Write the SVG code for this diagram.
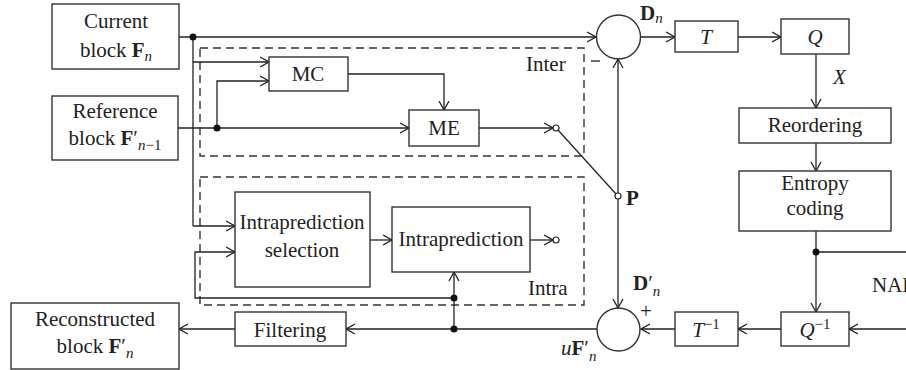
<svg xmlns="http://www.w3.org/2000/svg" width="906" height="370" viewBox="0 0 906 370">
  <defs>
    <marker id="arr" viewBox="0 -6 10 12" refX="9" refY="0" markerWidth="10" markerHeight="12" markerUnits="userSpaceOnUse" orient="auto">
      <path d="M0,-5 L9,0 L0,5" fill="none" stroke="#222" stroke-width="1.3"/>
    </marker>
  </defs>
  <style>
    .box { fill: #fff; stroke: #333; stroke-width: 1.4; }
    .dash { fill: none; stroke: #333; stroke-width: 1.4; stroke-dasharray: 8 5; }
    .ln { fill: none; stroke: #222; stroke-width: 1.3; }
    .ar { marker-end: url(#arr); }
    .dot { fill: #111; }
    .sw { fill: #fff; stroke: #222; stroke-width: 1.2; }
    text { font-family: "Liberation Serif", "Times New Roman", "DejaVu Serif", serif; font-size: 21px; fill: #222; }
    .c { text-anchor: middle; }
    .b { font-weight: bold; }
    .i { font-style: italic; }
    .s { font-size: 15px; }
  </style>
  <rect width="906" height="370" fill="#fff"/>

  <!-- dashed mode regions -->
  <g id="inter-region">
    <rect class="dash" x="200" y="48" width="384" height="108"/>
    <text x="526" y="71">Inter</text>
  </g>
  <g id="intra-region">
    <rect class="dash" x="200" y="177" width="384" height="128"/>
    <text x="528" y="295">Intra</text>
  </g>

  <!-- connectors -->
  <g id="connectors">
    <!-- current block to subtractor -->
    <path class="ln ar" d="M179,37 H596"/>
    <path class="ln" d="M193,37 V226"/>
    <path class="ln ar" d="M193,62 H269"/>
    <path class="ln ar" d="M193,226 H235"/>
    <!-- reference block -->
    <path class="ln ar" d="M178,128 H409"/>
    <path class="ln ar" d="M217,128 V81 H269"/>
    <!-- MC to ME -->
    <path class="ln ar" d="M348,74 H444 V110"/>
    <!-- ME to switch contact -->
    <path class="ln ar" d="M479,128 H553"/>
    <!-- switch arm -->
    <path class="ln" d="M558,130 L616,194"/>
    <!-- prediction P -->
    <path class="ln ar" d="M618,193 V59"/>
    <path class="ln ar" d="M618,199 V308"/>
    <!-- forward path -->
    <path class="ln ar" d="M641,37 H675"/>
    <path class="ln ar" d="M738,37 H781"/>
    <path class="ln ar" d="M816,54 V108"/>
    <path class="ln ar" d="M816,143 V171"/>
    <path class="ln" d="M816,231 V252 H906"/>
    <path class="ln ar" d="M816,252 V312"/>
    <!-- reconstruction path -->
    <path class="ln ar" d="M906,329 H849"/>
    <path class="ln ar" d="M781,329 H738"/>
    <path class="ln ar" d="M675,329 H641"/>
    <path class="ln ar" d="M597,329 H346"/>
    <path class="ln ar" d="M235,329 H179"/>
    <path class="ln ar" d="M454,329 V272"/>
    <path class="ln ar" d="M454,298 H195 V252 H235"/>
    <!-- intra chain -->
    <path class="ln ar" d="M370,240 H392"/>
    <path class="ln ar" d="M530,240 H553"/>
    <!-- junctions -->
    <circle class="dot" cx="193" cy="37" r="3.5"/>
    <circle class="dot" cx="217" cy="128" r="3.5"/>
    <circle class="dot" cx="454" cy="298" r="3.5"/>
    <circle class="dot" cx="454" cy="329" r="3.5"/>
    <circle class="dot" cx="816" cy="252" r="3.5"/>
    <!-- switch contacts -->
    <circle class="sw" cx="556" cy="128" r="3"/>
    <circle class="sw" cx="556" cy="240" r="3"/>
    <circle class="sw" cx="618" cy="196" r="3"/>
  </g>

  <g id="current-block">
    <rect class="box" x="52" y="4" width="127" height="65"/>
    <text class="c" x="116" y="28">Current</text>
    <text class="c" x="116" y="57">block <tspan class="b">F</tspan><tspan class="i s" dy="4">n</tspan></text>
  </g>
  <g id="reference-block">
    <rect class="box" x="52" y="96" width="126" height="64"/>
    <text class="c" x="115" y="118">Reference</text>
    <text class="c" x="115" y="145">block <tspan class="b">F</tspan><tspan>′</tspan><tspan class="i s" dy="5">n</tspan><tspan class="s">−1</tspan></text>
  </g>
  <g id="mc">
    <rect class="box" x="269" y="57" width="79" height="34"/>
    <text class="c" x="308" y="81">MC</text>
  </g>
  <g id="me">
    <rect class="box" x="409" y="110" width="70" height="36"/>
    <text class="c" x="444" y="135">ME</text>
  </g>
  <g id="intra-selection">
    <rect class="box" x="235" y="192" width="135" height="95"/>
    <text class="c" x="302" y="229">Intraprediction</text>
    <text class="c" x="302" y="257">selection</text>
  </g>
  <g id="intraprediction">
    <rect class="box" x="392" y="207" width="138" height="65"/>
    <text class="c" x="461" y="246">Intraprediction</text>
  </g>
  <g id="subtractor">
    <circle class="box" cx="618.5" cy="37" r="22"/>
    <path class="ln" d="M591,61 H600"/>
    <text x="640" y="20"><tspan class="b">D</tspan><tspan class="i s" dy="3">n</tspan></text>
  </g>
  <g id="adder">
    <circle class="box" cx="618.5" cy="329.5" r="21.5"/>
    <text x="640" y="318" font-size="19">+</text>
    <text x="633" y="290"><tspan class="b">D</tspan><tspan>′</tspan><tspan class="i s" dy="6">n</tspan></text>
    <text x="561" y="355"><tspan class="i">u</tspan><tspan class="b">F</tspan><tspan>′</tspan><tspan class="i s" dy="6">n</tspan></text>
  </g>
  <g id="p-label">
    <text class="b" x="626" y="205">P</text>
  </g>
  <g id="transform">
    <rect class="box" x="675" y="21" width="63" height="31"/>
    <text class="c i" x="706" y="44">T</text>
  </g>
  <g id="quantize">
    <rect class="box" x="781" y="19" width="68" height="35"/>
    <text class="c i" x="815" y="44">Q</text>
  </g>
  <g id="x-label">
    <text class="i" x="833" y="84">X</text>
  </g>
  <g id="reordering">
    <rect class="box" x="739" y="108" width="152" height="35"/>
    <text class="c" x="815" y="132">Reordering</text>
  </g>
  <g id="entropy-coding">
    <rect class="box" x="739" y="171" width="152" height="60"/>
    <text class="c" x="815" y="190">Entropy</text>
    <text class="c" x="815" y="215">coding</text>
  </g>
  <g id="nal">
    <text x="872" y="292">NAL</text>
  </g>
  <g id="inv-quantize">
    <rect class="box" x="781" y="312" width="68" height="34"/>
    <text class="c" x="815" y="337"><tspan class="i">Q</tspan><tspan class="s" dy="-8">−1</tspan></text>
  </g>
  <g id="inv-transform">
    <rect class="box" x="675" y="312" width="63" height="34"/>
    <text class="c" x="706" y="337"><tspan class="i">T</tspan><tspan class="s" dy="-8">−1</tspan></text>
  </g>
  <g id="filtering">
    <rect class="box" x="235" y="312" width="111" height="34"/>
    <text class="c" x="290" y="337">Filtering</text>
  </g>
  <g id="reconstructed-block">
    <rect class="box" x="11" y="303" width="168" height="66"/>
    <text class="c" x="95" y="326">Reconstructed</text>
    <text class="c" x="95" y="353">block <tspan class="b">F</tspan><tspan>′</tspan><tspan class="i s" dy="5">n</tspan></text>
  </g>
</svg>
